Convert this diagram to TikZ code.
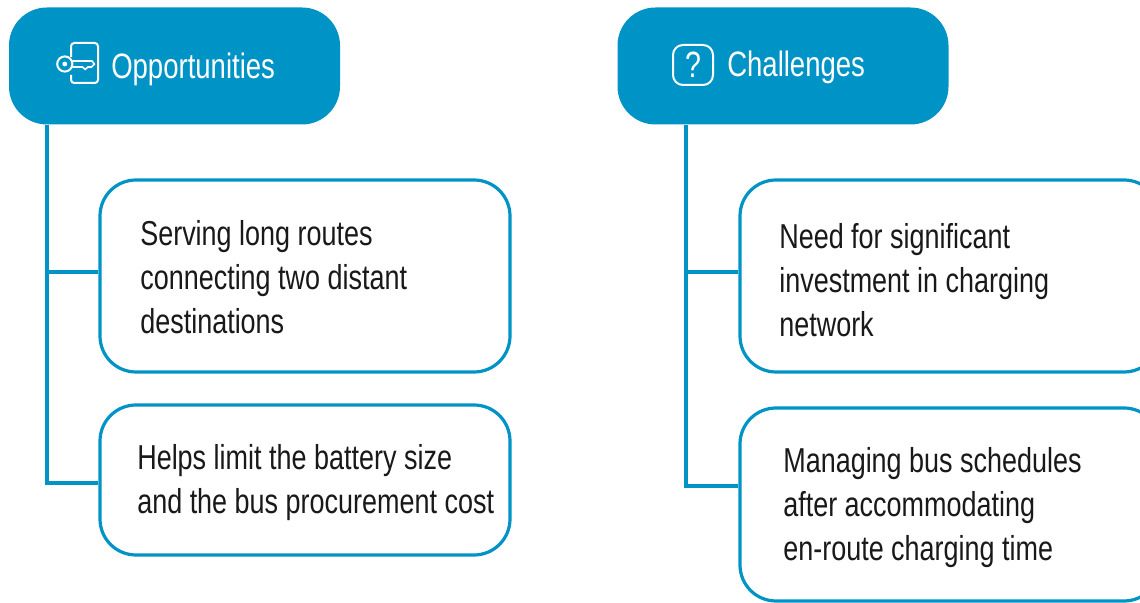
\documentclass[tikz,border=0pt]{standalone}
\usepackage{fontspec}
\setmainfont[FakeStretch=0.78]{Liberation Sans}
\definecolor{boxblue}{RGB}{0,147,198}
\tikzset{
  headbox/.style={draw=none, fill=boxblue, rounded corners=0.95cm, minimum width=8.275cm, minimum height=2.925cm},
  itembox/.style={draw=boxblue, fill=white, line width=0.08cm, rounded corners=0.9cm},
  headtext/.style={text=white, font=\fontsize{25.1}{28}\selectfont, anchor=base west, inner sep=0pt},
  itemtext/.style={text=black!90, font=\fontsize{24.6}{31.5}\selectfont, anchor=north west, align=left, inner sep=0pt},
  trunk/.style={draw=boxblue, line width=0.08cm},
  icon/.style={draw=white, line width=0.05cm}
}
\begin{document}
\begin{tikzpicture}
  \useasboundingbox (0,0) rectangle (28.500000,15.075000);
  \clip (0,0) rectangle (28.500000,15.075000);

  % Header boxes
  \node [headbox] (opphead) at (4.362500,13.425000) {};
  \node [headbox] (chalhead) at (19.575000,13.425000) {};

  % Item boxes
  \node [itembox, minimum width=10.250000cm, minimum height=4.800000cm] (opponebox) at (7.625000,8.175000) {};
  \node [itembox, minimum width=10.250000cm, minimum height=3.750000cm] (opptwobox) at (7.625000,3.075000) {};
  \node [itembox, minimum width=10.500000cm, minimum height=4.800000cm] (chalonebox) at (23.750000,8.175000) {};
  \node [itembox, minimum width=10.500000cm, minimum height=4.825000cm] (chaltwobox) at (23.750000,2.462500) {};

  % Trunk lines
  \coordinate (oppend) at (1.175000,3.000000);
  \coordinate (oppstart) at (oppend |- opphead.south);
  \coordinate (oppbranch) at (1.175000,8.275000);
  \coordinate (chalend) at (17.150000,2.925000);
  \coordinate (chalstart) at (chalend |- chalhead.south);
  \coordinate (chalbranch) at (17.150000,8.275000);
  \draw [trunk, line join=miter] (oppstart) -- (oppend) -- (oppend -| opptwobox.west);
  \draw [trunk] (oppbranch) -- (oppbranch -| opponebox.west);
  \draw [trunk, line join=miter] (chalstart) -- (chalend) -- (chalend -| chaltwobox.west);
  \draw [trunk] (chalbranch) -- (chalbranch -| chalonebox.west);

  % Header texts
  \node [headtext] (opptext) at (2.775000,13.100000) {Opportunities};
  \node [headtext] (chaltext) at (18.175000,13.150000) {Challenges};

  % Item texts
  \node [itemtext] (opponetext) at (3.500000,9.575000) {Serving long routes\\connecting two distant\\destinations};
  \node [itemtext] (opptwotext) at (3.425000,3.975000) {Helps limit the battery size\\and the bus procurement cost};
  \node [itemtext] (chalonetext) at (19.475000,9.500000) {Need for significant\\investment in charging\\network};
  \node [itemtext] (chaltwotext) at (19.575000,3.900000) {Managing bus schedules\\after accommodating\\en-route charging time};

  % Key icon
  \draw [icon, rounded corners=0.08cm] (1.775000,13.650000) -- (1.775000,14.000000) -- (2.450000,14.000000) -- (2.450000,13.000000) -- (1.775000,13.000000) -- (1.775000,13.200000);
  \draw [icon] (1.620000,13.475000) circle (0.190000);
  \fill [white] (1.620000,13.475000) circle (0.060000);
  \draw [icon, line width=0.04cm] (1.810000,13.550000) -- (2.300000,13.550000) -- (2.360000,13.470000) -- (2.290000,13.400000) -- (2.200000,13.400000) -- (2.130000,13.340000) -- (2.060000,13.400000) -- (1.810000,13.400000);

  % Question icon
  \draw [icon, rounded corners=0.25cm] (16.825000,12.950000) rectangle (17.825000,13.950000);
  \node [text=white, font=\fontsize{26}{30}\selectfont, inner sep=0pt] (qmark) at (17.325000,13.450000) {?};
\end{tikzpicture}
\end{document}
